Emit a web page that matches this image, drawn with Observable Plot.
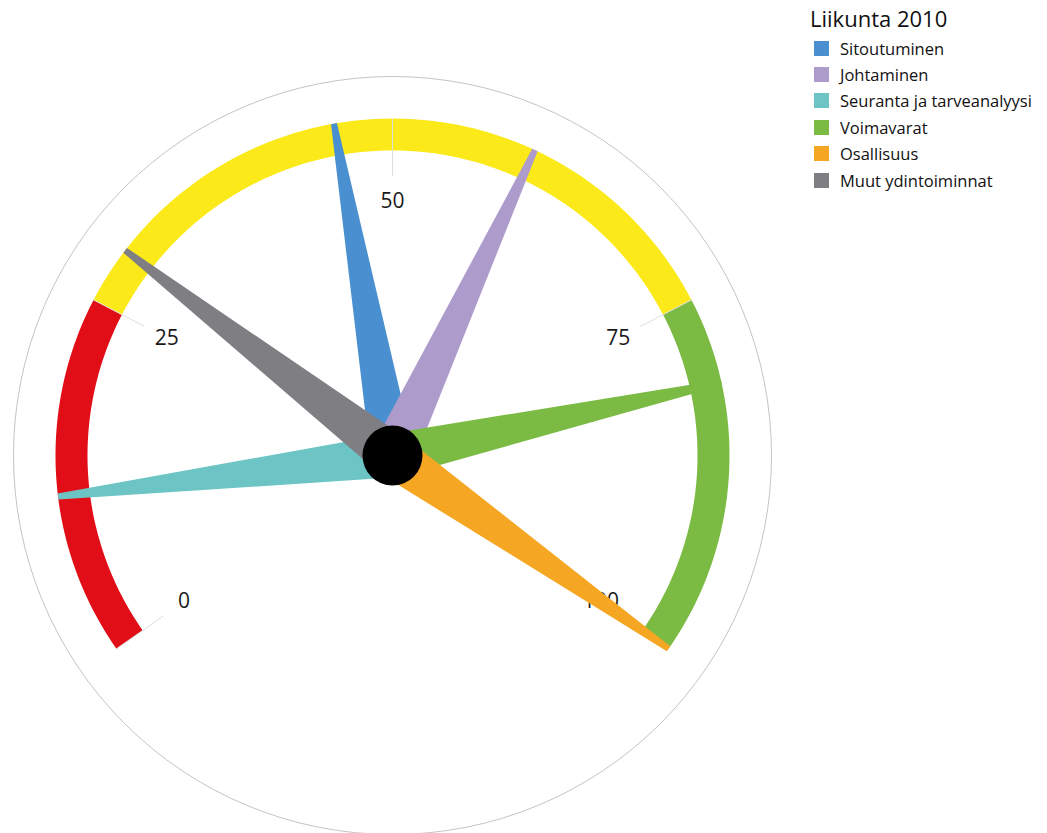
<!DOCTYPE html>
<html><head><meta charset="utf-8">
<script src="https://cdn.jsdelivr.net/npm/d3@7"></script>
<script src="https://cdn.jsdelivr.net/npm/@observablehq/plot@0.6"></script>
<style>
body{margin:0;background:#fff;font-family:"Open Sans",sans-serif}
#wrap{position:relative;width:1047px;height:833px;overflow:hidden}
#chart{position:absolute;left:0;top:0}
#legend{position:absolute;left:810px;top:3px;color:#111}
#legend .title{font-size:22px;line-height:30px;margin-bottom:2px}
#legend .item{display:flex;align-items:center;height:26.4px;font-size:16.5px}
#legend .sw{width:15px;height:15px;margin-left:4px;margin-right:11px}
</style></head>
<body><div id="wrap"><div id="chart"></div><div id="legend"></div></div>
<script>
// ---- data ----
const legendTitle = "Liikunta 2010";
const categories = ["Sitoutuminen", "Johtaminen", "Seuranta ja tarveanalyysi", "Voimavarat", "Osallisuus", "Muut ydintoiminnat"];
const values = [46, 60, 11.2, 81, 100, 29];
const colors = ["#4a90d0", "#ad9bcb", "#6cc5c4", "#7bba43", "#f5a623", "#7e7e83"];
const bandStart = [0, 25, 75];
const bandEnd = [25, 75, 100];
const bandColors = ["#e10e17", "#fbe91a", "#7bba43"];
const tickValues = [0, 25, 50, 75, 100];

// ---- layout ----
const W = 1047, H = 833, cx = 392, cy = 455, k = 337;
const rOut = 1, rIn = 305 / 337, rTickIn = 0.83, rLabel = 0.755;
const needleBase = 22 / k, needleTip = 3 / k;
const ang = v => (-125 + v * 2.5) * Math.PI / 180;
const pt = (v, r) => ({x: r * Math.sin(ang(v)), y: r * Math.cos(ang(v))});

// band polygons
const bandRows = [];
bandStart.forEach((s, i) => {
  const e = bandEnd[i], n = 80;
  for (let j = 0; j <= n; j++) bandRows.push({id: i, c: bandColors[i], ...pt(s + (e - s) * j / n, rOut)});
  for (let j = n; j >= 0; j--) bandRows.push({id: i, c: bandColors[i], ...pt(s + (e - s) * j / n, rIn)});
});

// needle polygons
const needleRows = [];
values.forEach((v, i) => {
  const a = ang(v), ux = Math.sin(a), uy = Math.cos(a), px = uy, py = -ux;
  const c = colors[i];
  needleRows.push({id: i, c, x: px * needleBase, y: py * needleBase});
  needleRows.push({id: i, c, x: ux * rOut + px * needleTip, y: uy * rOut + py * needleTip});
  needleRows.push({id: i, c, x: ux * rOut - px * needleTip, y: uy * rOut - py * needleTip});
  needleRows.push({id: i, c, x: -px * needleBase, y: -py * needleBase});
});

const ticks = tickValues.map(t => {
  const a = pt(t, rTickIn), b = pt(t, rOut), l = pt(t, rLabel);
  return {t, x1: a.x, y1: a.y, x2: b.x, y2: b.y, lx: l.x, ly: l.y};
});

const chart = Plot.plot({
  width: W, height: H,
  margin: 0,
  x: {domain: [-cx / k, (W - cx) / k], range: [0, W], axis: null},
  y: {domain: [-(H - cy) / k, cy / k], range: [H, 0], axis: null},
  color: {type: "identity"},
  style: {fontFamily: "'Open Sans', sans-serif", background: "transparent"},
  marks: [
    Plot.dot([0], {x: () => 0, y: () => 0, r: 379, fill: "none", stroke: "#c4c4c4", strokeWidth: 1}),
    Plot.line(bandRows, {x: "x", y: "y", z: "id", fill: "c", stroke: "none", curve: "linear"}),
    Plot.link(ticks, {x1: "x1", y1: "y1", x2: "x2", y2: "y2", stroke: "#dedede", strokeWidth: 1}),
    Plot.text(ticks, {x: "lx", y: "ly", text: d => String(d.t), fontSize: 21, fill: "#1a1a1a"}),
    Plot.line(needleRows, {x: "x", y: "y", z: "id", fill: "c", stroke: "none", curve: "linear"}),
    Plot.dot([0], {x: () => 0, y: () => 0, r: 30, fill: "black", stroke: "none"})
  ]
});
document.getElementById("chart").appendChild(chart);

// legend
const lg = d3.select("#legend");
lg.append("div").attr("class", "title").text(legendTitle);
categories.forEach((c, i) => {
  const it = lg.append("div").attr("class", "item");
  it.append("div").attr("class", "sw").style("background", colors[i]);
  it.append("span").text(c);
});
</script>
</body></html>
